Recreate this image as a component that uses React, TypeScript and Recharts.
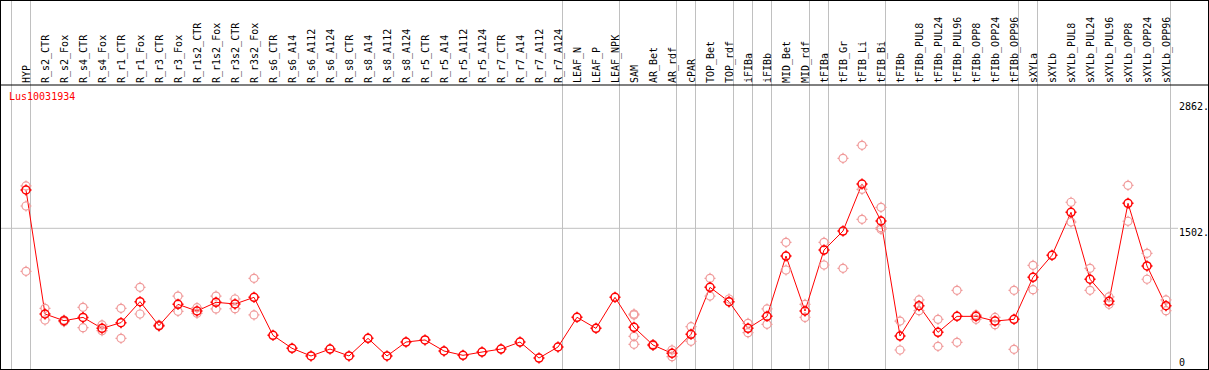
import { ComposedChart, Line, Scatter, XAxis, YAxis, ReferenceLine } from "recharts";

const categories = [
  "HYP", "R_s2_CTR", "R_s2_Fox", "R_s4_CTR", "R_s4_Fox", "R_r1_CTR", "R_r1_Fox", "R_r3_CTR", "R_r3_Fox",
  "R_r1s2_CTR", "R_r1s2_Fox", "R_r3s2_CTR", "R_r3s2_Fox", "R_s6_CTR", "R_s6_A14", "R_s6_A112", "R_s6_A124",
  "R_s8_CTR", "R_s8_A14", "R_s8_A112", "R_s8_A124", "R_r5_CTR", "R_r5_A14", "R_r5_A112", "R_r5_A124",
  "R_r7_CTR", "R_r7_A14", "R_r7_A112", "R_r7_A124", "LEAF_N", "LEAF_P", "LEAF_NPK", "SAM", "AR_Bet", "AR_rdf",
  "cPAR", "TOP_Bet", "TOP_rdf", "iFIBa", "iFIBb", "MID_Bet", "MID_rdf", "tFIBa", "tFIB_Gr", "tFIB_Li", "tFIB_Bi",
  "tFIBb", "tFIBb_PUL8", "tFIBb_PUL24", "tFIBb_PUL96", "tFIBb_OPP8", "tFIBb_OPP24", "tFIBb_OPP96", "sXYLa",
  "sXYLb", "sXYLb_PUL8", "sXYLb_PUL24", "sXYLb_PUL96", "sXYLb_OPP8", "sXYLb_OPP24", "sXYLb_OPP96",
];

const means = [
  1911, 587, 516, 551, 434, 495, 719, 463, 690, 619, 712, 694, 765,
  359, 221, 139, 213, 139, 327, 139, 288, 310, 192, 146, 181, 213, 288, 117, 235,
  552, 434, 765,
  445, 256, 167, 370, 872, 719, 434, 562, 1206, 619, 1270, 1473, 1975, 1580, 352,
  676, 391, 562, 562, 512, 530, 979, 1214, 1673, 958, 723, 1769, 1100, 676,
];

const replicates: number[][] = [
  [1954, 1740, 1043], [648, 523], [523, 505], [658, 441], [470, 409], [648, 327], [872, 587],
  [470, 458], [779, 616], [655, 594], [779, 641], [747, 644], [968, 577],
  [], [], [], [], [], [], [], [], [], [], [], [], [], [], [], [],
  [], [], [],
  [587, 577, 349, 263], [262, 250], [203, 132], [452, 295], [968, 779], [747, 716], [488, 388],
  [641, 477], [1352, 1057], [690, 551], [1352, 1110], [2249, 1075], [2388, 1918, 1598],
  [1726, 1509, 1491], [512, 203],
  [737, 623], [530, 242], [840, 285], [577, 530], [551, 473], [840, 210], [1107, 847], [],
  [1780, 1569], [1075, 840], [769, 690], [1961, 1577], [1235, 958], [737, 623],
];

// group separators sit just after these columns
const groupEnds = [-1, 0, 28, 31, 34, 35, 37, 38, 39, 41, 42, 45, 52, 53, 60];
const yTicks = [0, 1502, 2862];

const W = 1209;
const H = 370;
const STEP = 19;
const X0 = 26; // pixel of first column
const Y0 = 369; // pixel of value 0
const PX_PER_UNIT = 140.7 / 1502;

const xMin = -X0 / STEP;
const xMax = (W - X0) / STEP;
const yMax = Y0 / PX_PER_UNIT;
const yMin = -(H - Y0) / PX_PER_UNIT;
const headerY = (Y0 - 85) / PX_PER_UNIT;
const sepOffset = 4.5 / STEP;

const lineData = means.map((m, i) => ({ x: i, mean: m }));
const repData = replicates.flatMap((r, i) => r.map((v) => ({ x: i, y: v })));

const MONO = "'DejaVu Sans Mono', monospace";

function Marker({ cx, cy, color, w }: { cx?: number; cy?: number; color: string; w: number }) {
  if (cx == null || cy == null) return null;
  return (
    <g stroke={color} strokeWidth={w} fill="none">
      <circle cx={cx} cy={cy} r={4} />
      <line x1={cx} y1={cy - 4} x2={cx} y2={cy - 5.5} />
      <line x1={cx} y1={cy + 4} x2={cx} y2={cy + 5.5} />
      <line x1={cx - 4} y1={cy} x2={cx - 5.5} y2={cy} />
      <line x1={cx + 4} y1={cy} x2={cx + 5.5} y2={cy} />
    </g>
  );
}

function TopTick(props: any) {
  const { x, payload } = props;
  const y = 83;
  return (
    <text
      x={x}
      y={y}
      transform={`rotate(-90, ${x}, ${y})`}
      textAnchor="start"
      dominantBaseline="central"
      fontFamily={MONO}
      fontSize={10}
      fill="#000"
    >
      {categories[payload.value]}
    </text>
  );
}

function RightTick(props: any) {
  const { y, payload } = props;
  const dy = payload.value === 0 ? -7 : payload.value === 1502 ? 4 : 6;
  return (
    <text x={1179} y={y + dy} dominantBaseline="central" fontFamily={MONO} fontSize={10} fill="#000">
      {payload.value === 0 ? "0" : `${payload.value}.`}
    </text>
  );
}

export default function App() {
  return (
    <div style={{ position: "relative", width: W, height: H }}>
      <style>{`body{margin:0}`}</style>
      <ComposedChart width={W} height={H} data={lineData} margin={{ top: -1, right: -1, bottom: 0, left: 0 }}>
        <XAxis
          dataKey="x"
          type="number"
          domain={[xMin, xMax]}
          orientation="top"
          height={1}
          ticks={categories.map((_, i) => i)}
          interval={0}
          axisLine={false}
          tickLine={false}
          tick={<TopTick />}
          allowDataOverflow
        />
        <YAxis
          type="number"
          domain={[yMin, yMax]}
          orientation="right"
          width={1}
          ticks={yTicks}
          interval={0}
          axisLine={false}
          tickLine={false}
          tick={<RightTick />}
          allowDataOverflow
        />
        {groupEnds.map((g) => (
          <ReferenceLine key={g} x={g + sepOffset} stroke="#c0c0c0" strokeWidth={1} />
        ))}
        <ReferenceLine
          segment={[
            { x: xMin, y: 1502 },
            { x: (1178 - X0) / STEP, y: 1502 },
          ]}
          stroke="#c0c0c0"
          strokeWidth={1}
        />
        <ReferenceLine y={headerY} stroke="#000" strokeWidth={1} />
        <Scatter
          data={repData}
          dataKey="y"
          isAnimationActive={false}
          shape={(p: any) => <Marker cx={p.cx} cy={p.cy} color="#f09a9a" w={1.2} />}
        />
        <Line
          dataKey="mean"
          stroke="#ff0000"
          strokeWidth={1}
          isAnimationActive={false}
          dot={(p: any) => <Marker key={p.index} cx={p.cx} cy={p.cy} color="#ff0000" w={1.5} />}
          activeDot={false}
        />
      </ComposedChart>
      <div
        style={{
          position: "absolute",
          left: 9,
          top: 90,
          fontFamily: MONO,
          fontSize: 10,
          lineHeight: "14px",
          color: "#ff0000",
        }}
      >
        Lus10031934
      </div>
      <div
        style={{
          position: "absolute",
          left: 0,
          top: 0,
          width: W,
          height: H,
          boxSizing: "border-box",
          border: "1px solid #000",
          pointerEvents: "none",
        }}
      />
    </div>
  );
}
